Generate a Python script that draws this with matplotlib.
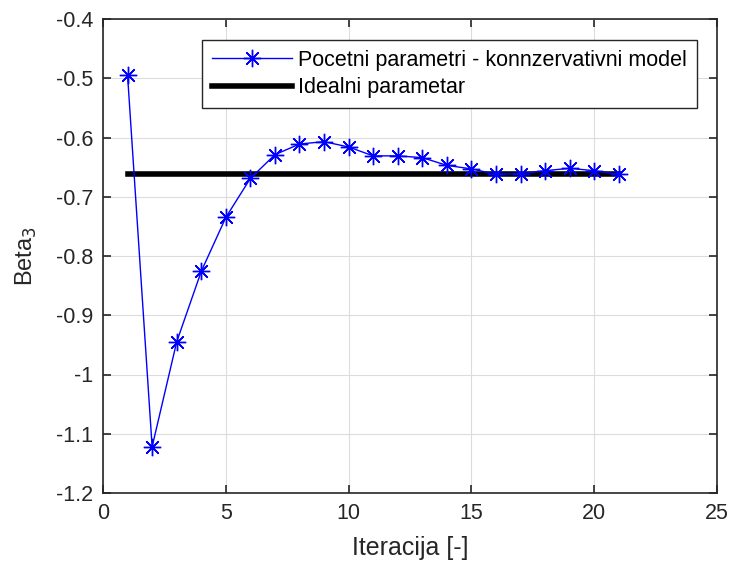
import matplotlib
matplotlib.use("Agg")
import matplotlib.pyplot as plt

plt.rcParams['font.family'] = ['Liberation Sans', 'DejaVu Sans']

iterations = list(range(1, 22))
beta3 = [-0.495, -1.122, -0.945, -0.826, -0.735, -0.669, -0.629, -0.611,
         -0.607, -0.616, -0.631, -0.631, -0.634, -0.647, -0.653, -0.662,
         -0.661, -0.656, -0.652, -0.656, -0.662]
ideal_value = -0.662
ideal_range = [1, 21]

series_label = "Pocetni parametri - konnzervativni model"
ideal_label = "Idealni parametar"

fig = plt.figure(figsize=(7.33, 5.68), dpi=100)
ax = fig.add_axes([103 / 733, 1 - 493 / 568, (717 - 103) / 733, (493 - 19) / 568])

ax.plot(iterations, beta3, color='#0000ff', linewidth=1.0, marker=(8, 2, 0),
        markersize=12.5, markeredgewidth=1.0, label=series_label)
ax.plot(ideal_range, [ideal_value, ideal_value], color='black', linewidth=4,
        label=ideal_label, zorder=1)

ax.set_xlim(0, 25)
ax.set_ylim(-1.2, -0.4)
ax.set_xticks([0, 5, 10, 15, 20, 25])
ax.set_yticks([-1.2, -1.1, -1.0, -0.9, -0.8, -0.7, -0.6, -0.5, -0.4])
ax.set_yticklabels(['-1.2', '-1.1', '-1', '-0.9', '-0.8', '-0.7', '-0.6', '-0.5', '-0.4'])

ax.grid(True, color='#dcdcdc', linewidth=0.8)
ax.set_axisbelow(True)
ax.tick_params(direction='in', top=True, right=True, labelsize=15.5,
               length=6, width=1.2, colors='#262626', pad=7)
for s in ax.spines.values():
    s.set_linewidth(1.2)
    s.set_color('#262626')

ax.set_xlabel("Iteracija [-]", fontsize=18, color='#262626', labelpad=9)
ax.set_ylabel("Beta$_3$", fontsize=17, color='#262626', labelpad=12)

leg = ax.legend(loc='upper right', bbox_to_anchor=(0.967, 0.9557), fontsize=15.5,
                fancybox=False, framealpha=1, edgecolor='#262626',
                handlelength=3.7, borderpad=0.45, labelspacing=0.3,
                handletextpad=0.3, borderaxespad=0)
leg.get_frame().set_linewidth(1.0)

fig.savefig("out.png", dpi=100)
